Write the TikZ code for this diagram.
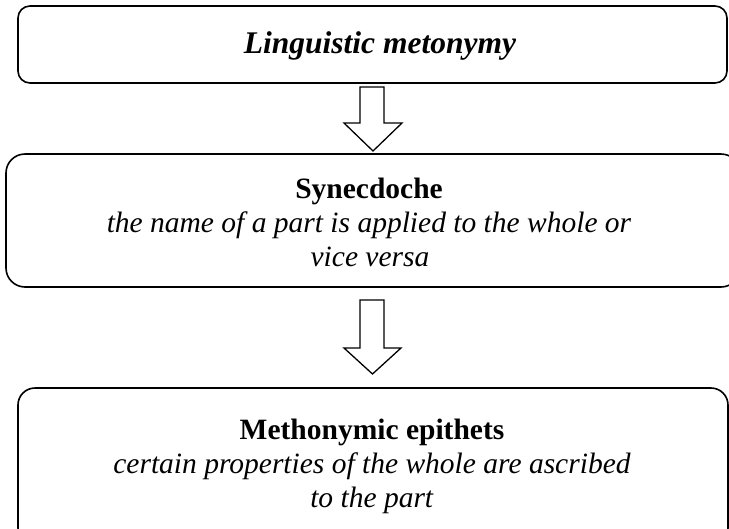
\documentclass[tikz,border=0pt]{standalone}
\usepackage{fontspec}
\setmainfont{Liberation Serif}
\begin{document}
\begin{tikzpicture}[x=1pt,y=-1pt,
  frame/.style={draw=black,line width=1.6pt,fill=white},
  blockarrow/.style={draw=black,line width=1.3pt,fill=white,line join=miter},
  line/.style={anchor=base,inner sep=0pt,font=\fontsize{29.5}{34}\selectfont},
  heading/.style={anchor=base,inner sep=0pt,font=\fontsize{31.5}{36}\selectfont}]
\useasboundingbox (0,0) rectangle (729,528);
\clip (0,0) rectangle (729,528);

% boxes
\draw[frame,rounded corners=12pt] (18,6) rectangle (727,83);
\draw[frame,rounded corners=19pt] (6,154) rectangle (740,287);
\draw[frame,rounded corners=17pt] (18,388) rectangle (728,545);

% top box
\node[heading] (title) at (380,53) {\textbf{\textit{Linguistic metonymy}}};

% middle box
\node[line] (syn) at (369,198) {\textbf{Synecdoche}};
\node[line] (syn1) at (369,232) {\textit{the name of a part is applied to the whole or}};
\node[line] (syn2) at (370,266) {\textit{vice versa}};

% bottom box
\node[line] (epi) at (372,439) {\textbf{Methonymic epithets}};
\node[line] (epi1) at (372,473) {\textit{certain properties of the whole are ascribed}};
\node[line] (epi2) at (372,507) {\textit{to the part}};

% block arrows
\draw[blockarrow] (360,87) -- (384,87) -- (384,123) -- (402,123) -- (373,151)
  -- (344,123) -- (360,123) -- cycle;
\draw[blockarrow] (360,300) -- (384,300) -- (384,348) -- (401,348) -- (372.5,374)
  -- (344,348) -- (360,348) -- cycle;
\end{tikzpicture}
\end{document}
